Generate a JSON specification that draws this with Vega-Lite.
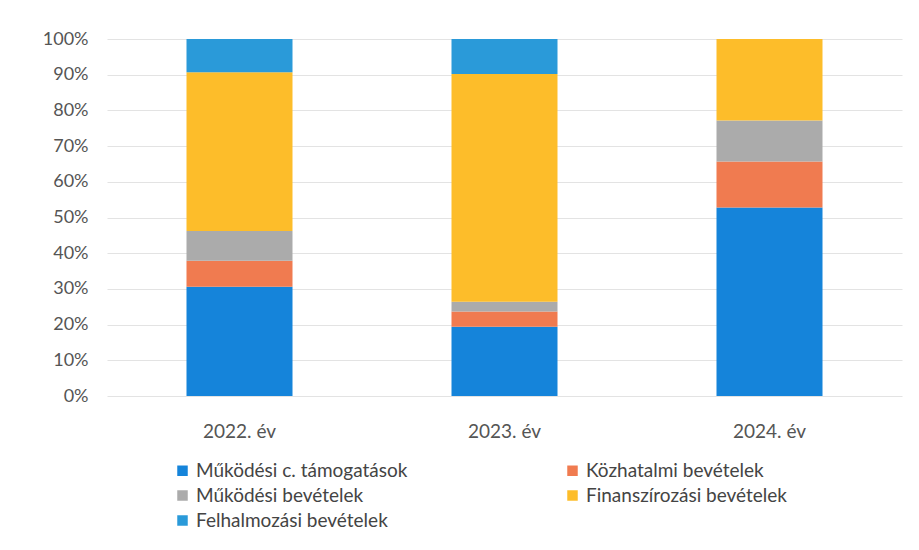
{
  "$schema": "https://vega.github.io/schema/vega-lite/v6.json",
  "width": 795,
  "height": 357,
  "autosize": {"type": "none"},
  "padding": {"left": 107, "top": 39, "right": 17, "bottom": 154},
  "background": "white",
  "data": {
    "values": [
      {"year": "2022. év", "cat": "Működési c. támogatások", "order": 1, "value": 30.6},
      {"year": "2022. év", "cat": "Közhatalmi bevételek", "order": 2, "value": 7.3},
      {"year": "2022. év", "cat": "Működési bevételek", "order": 3, "value": 8.3},
      {"year": "2022. év", "cat": "Finanszírozási bevételek", "order": 4, "value": 44.5},
      {"year": "2022. év", "cat": "Felhalmozási bevételek", "order": 5, "value": 9.3},
      {"year": "2023. év", "cat": "Működési c. támogatások", "order": 1, "value": 19.4},
      {"year": "2023. év", "cat": "Közhatalmi bevételek", "order": 2, "value": 4.3},
      {"year": "2023. év", "cat": "Működési bevételek", "order": 3, "value": 2.7},
      {"year": "2023. év", "cat": "Finanszírozási bevételek", "order": 4, "value": 63.8},
      {"year": "2023. év", "cat": "Felhalmozási bevételek", "order": 5, "value": 9.8},
      {"year": "2024. év", "cat": "Működési c. támogatások", "order": 1, "value": 52.8},
      {"year": "2024. év", "cat": "Közhatalmi bevételek", "order": 2, "value": 12.9},
      {"year": "2024. év", "cat": "Működési bevételek", "order": 3, "value": 11.5},
      {"year": "2024. év", "cat": "Finanszírozási bevételek", "order": 4, "value": 22.8},
      {"year": "2024. év", "cat": "Felhalmozási bevételek", "order": 5, "value": 0}
    ]
  },
  "mark": {"type": "bar"},
  "encoding": {
    "x": {
      "field": "year", "type": "nominal", "title": null,
      "scale": {"paddingInner": 0.6, "paddingOuter": 0.3},
      "axis": {"labelAngle": 0, "labelFont": "Lato", "labelFontSize": 19, "labelColor": "#555555", "domain": false, "ticks": false, "labelPadding": 26}
    },
    "y": {
      "field": "value", "type": "quantitative", "title": null, "stack": "zero",
      "scale": {"domain": [0, 100], "nice": false},
      "axis": {"values": [0,10,20,30,40,50,60,70,80,90,100], "labelExpr": "datum.value + '%'", "labelFont": "Lato", "labelFontSize": 18, "labelColor": "#555555", "domain": false, "ticks": false, "labelPadding": 19, "gridColor": "#e3e3e3"}
    },
    "color": {
      "field": "cat", "type": "nominal", "title": null,
      "scale": {
        "domain": ["Működési c. támogatások", "Működési bevételek", "Felhalmozási bevételek", "Közhatalmi bevételek", "Finanszírozási bevételek"],
        "range": ["#1584DA", "#ABABAB", "#2A9AD9", "#F07B50", "#FDBD2A"]
      },
      "legend": {
        "orient": "none", "legendX": 66, "legendY": 422, "columns": 2, "columnPadding": 155, "rowPadding": 5,
        "symbolType": "square", "symbolSize": 110, "labelFont": "Lato", "labelFontSize": 19, "labelColor": "#444444", "labelLimit": 400
      }
    },
    "order": {"field": "order", "type": "quantitative"}
  },
  "config": {"view": {"stroke": null}}
}
